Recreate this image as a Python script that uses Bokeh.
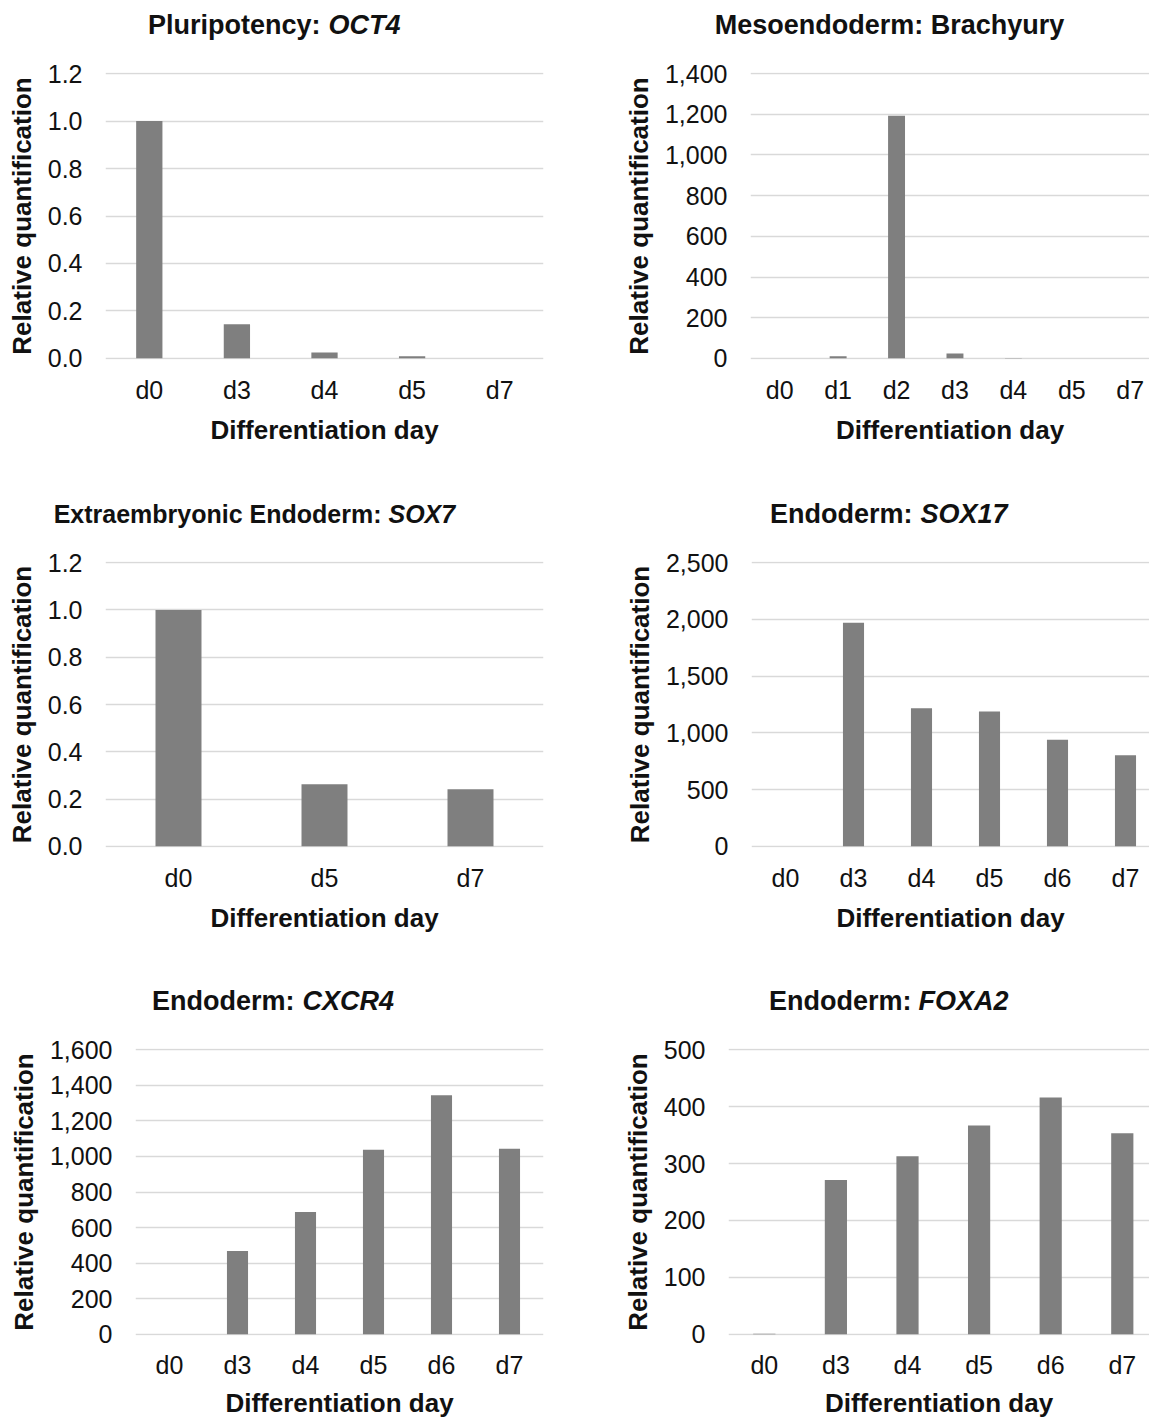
from bokeh.plotting import figure
from bokeh.layouts import column, row
from bokeh.models import Range1d, FixedTicker, NumeralTickFormatter
from bokeh.core.properties import value
from bokeh.embed import file_html
from bokeh.resources import INLINE

# ---------------- data ----------------
oct4_days = ["d0", "d3", "d4", "d5", "d7"]
oct4_vals = [1.0, 0.144, 0.025, 0.009, 0.0]
oct4_ticks = [0.0, 0.2, 0.4, 0.6, 0.8, 1.0, 1.2]

bra_days = ["d0", "d1", "d2", "d3", "d4", "d5", "d7"]
bra_vals = [1, 10, 1193, 24, 2, 1, 1]
bra_ticks = [0, 200, 400, 600, 800, 1000, 1200, 1400]

sox7_days = ["d0", "d5", "d7"]
sox7_vals = [1.0, 0.263, 0.242]
sox7_ticks = [0.0, 0.2, 0.4, 0.6, 0.8, 1.0, 1.2]

sox17_days = ["d0", "d3", "d4", "d5", "d6", "d7"]
sox17_vals = [1, 1971, 1217, 1188, 940, 803]
sox17_ticks = [0, 500, 1000, 1500, 2000, 2500]

cxcr4_days = ["d0", "d3", "d4", "d5", "d6", "d7"]
cxcr4_vals = [1, 469, 687, 1037, 1344, 1043]
cxcr4_ticks = [0, 200, 400, 600, 800, 1000, 1200, 1400, 1600]

foxa2_days = ["d0", "d3", "d4", "d5", "d6", "d7"]
foxa2_vals = [1, 271, 313, 367, 416, 353]
foxa2_ticks = [0, 100, 200, 300, 400, 500]

titles = [
    ["Pluripotency:", "OCT4"],
    ["Mesoendoderm: Brachyury"],
    ["Extraembryonic Endoderm:", "SOX7"],
    ["Endoderm:", "SOX17"],
    ["Endoderm:", "CXCR4"],
    ["Endoderm:", "FOXA2"],
]

XLABEL = "Differentiation day"
YLABEL = "Relative quantification"

FONT = "Liberation Sans"
TXT = "#111111"
BAR = "#7f7f7f"
GRID = "#d9d9d9"

TITLE_H = 57
TITLE_Y = 33


def title_fig(width, parts, xs, size):
    t = figure(width=width, height=TITLE_H, x_range=Range1d(0, width), y_range=Range1d(0, TITLE_H),
               min_border_left=0, min_border_right=0, min_border_top=0, min_border_bottom=0,
               x_axis_location=None, y_axis_location=None,
               output_backend="svg", toolbar_location=None,
               background_fill_color="white", border_fill_color="white")
    t.outline_line_color = None
    t.grid.visible = False
    if len(parts) == 1:
        t.text(x=[xs[0]], y=[TITLE_Y], text=[parts[0]], text_font=value(FONT),
               text_font_size=value(size), text_font_style="bold", text_color=TXT,
               text_align="center", text_baseline="alphabetic")
    else:
        t.text(x=[xs[0]], y=[TITLE_Y], text=[parts[0]], text_font=value(FONT),
               text_font_size=value(size), text_font_style="bold", text_color=TXT,
               text_align="right", text_baseline="alphabetic")
        t.text(x=[xs[1]], y=[TITLE_Y], text=[parts[1]], text_font=value(FONT),
               text_font_size=value(size), text_font_style="bold italic", text_color=TXT,
               text_align="left", text_baseline="alphabetic")
    return t


def panel(days, vals, ticks, fmt, width, height, bl, br, bt, bb, bar_w=0.31, crop=0.0,
          lab_off=16, axl_off=8):
    n = len(days)
    pos = list(range(n))
    top = ticks[-1]
    pad = top * 0.004
    p = figure(x_range=Range1d(-0.5, n - 0.5 - crop),
               y_range=Range1d(ticks[0] - pad, top + pad),
               width=width, height=height,
               min_border_left=bl, min_border_right=br,
               min_border_top=bt, min_border_bottom=bb,
               output_backend="svg", toolbar_location=None,
               background_fill_color="white", border_fill_color="white")
    p.outline_line_color = None
    p.vbar(x=pos, top=vals, width=bar_w, fill_color=BAR, line_color=None)

    p.xgrid.visible = False
    p.ygrid.grid_line_color = GRID
    p.ygrid.grid_line_width = 1.5

    ya = p.yaxis[0]
    ya.ticker = FixedTicker(ticks=ticks)
    ya.formatter = NumeralTickFormatter(format=fmt)
    ya.axis_line_color = None
    ya.major_tick_line_color = None
    ya.minor_tick_line_color = None
    ya.major_tick_out = 0
    ya.major_tick_in = 0
    ya.major_label_standoff = 23
    ya.major_label_text_font = FONT
    ya.major_label_text_font_size = "25px"
    ya.major_label_text_color = TXT
    ya.axis_label = YLABEL
    ya.axis_label_text_font = FONT
    ya.axis_label_text_font_size = "26px"
    ya.axis_label_text_font_style = "bold"
    ya.axis_label_text_color = TXT
    ya.axis_label_standoff = 8

    xa = p.xaxis[0]
    xa.ticker = FixedTicker(ticks=pos)
    xa.major_label_overrides = {i: d for i, d in zip(pos, days)}
    xa.axis_line_color = None
    xa.major_tick_line_color = None
    xa.minor_tick_line_color = None
    xa.major_tick_out = 0
    xa.major_tick_in = 0
    xa.major_label_standoff = lab_off
    xa.major_label_text_font = FONT
    xa.major_label_text_font_size = "25px"
    xa.major_label_text_color = TXT
    xa.axis_label = XLABEL
    xa.axis_label_text_font = FONT
    xa.axis_label_text_font_size = "26px"
    xa.axis_label_text_font_style = "bold"
    xa.axis_label_text_color = TXT
    xa.axis_label_standoff = axl_off
    return p


LW, RW = 574, 575

t1 = title_fig(LW, titles[0], [320, 328], "27px")
t2 = title_fig(RW, titles[1], [315], "27px")
p1 = panel(oct4_days, oct4_vals, oct4_ticks, "0.0", LW, 432, 105, 31, 15, 130, 0.30)
p2 = panel(bra_days, bra_vals, bra_ticks, "0,0", RW, 432, 176, 0, 15, 130, 0.29, crop=0.17)

t3 = title_fig(LW, titles[2], [381, 388], "25px")
t4 = title_fig(RW, titles[3], [338, 346], "27px")
p3 = panel(sox7_days, sox7_vals, sox7_ticks, "0.0", LW, 430, 105, 31, 15, 129, 0.315)
p4 = panel(sox17_days, sox17_vals, sox17_ticks, "0,0", RW, 430, 177, 0, 15, 129, 0.31, crop=0.147)

t5 = title_fig(LW, titles[4], [294, 302], "27px")
t6 = title_fig(RW, titles[5], [337, 344], "27px")
p5 = panel(cxcr4_days, cxcr4_vals, cxcr4_ticks, "0,0", LW, 388, 135, 31, 15, 86, 0.31,
           lab_off=15, axl_off=6)
p6 = panel(foxa2_days, foxa2_vals, foxa2_ticks, "0,0", RW, 388, 154, 0, 15, 86, 0.31, crop=0.12,
           lab_off=15, axl_off=6)

layout = column(row(t1, t2), row(p1, p2),
                row(t3, t4), row(p3, p4),
                row(t5, t6), row(p5, p6))

open("out.html", "w").write(file_html(layout, INLINE))
